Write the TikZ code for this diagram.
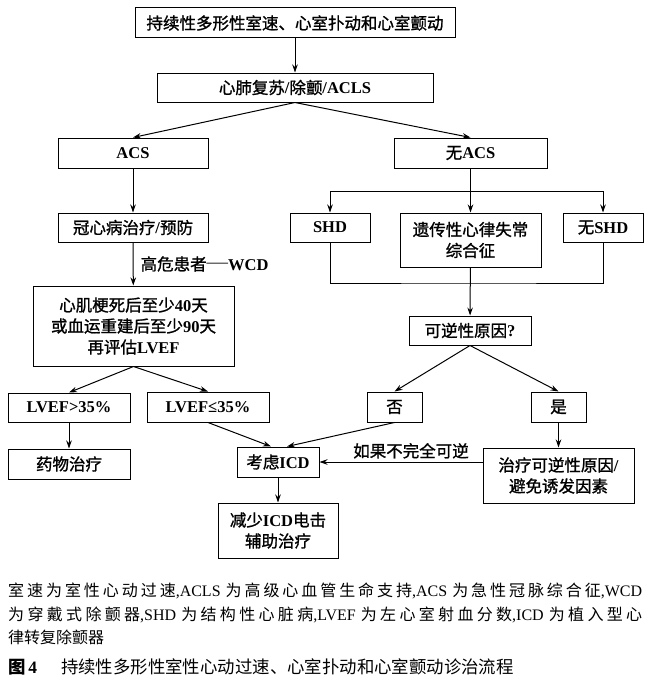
\documentclass[tikz,border=0pt]{standalone}
\usepackage{fontspec}
\setmainfont{Liberation Serif}
\newfontfamily\cjk{Noto Sans CJK SC}
\newfontfamily\cjkbox{Noto Sans CJK SC}[FakeBold=1.2]
\usetikzlibrary{arrows.meta,positioning}

\newcommand\zh[1]{{\cjk\mdseries #1}}
\newcommand\zb[1]{{\cjkbox\mdseries #1}}
\newcommand\boxfont{\fontsize{16.5}{21}\selectfont\bfseries}
\newcommand\capfont{\fontsize{16}{23.5}\selectfont
  \XeTeXlinebreaklocale "zh"\XeTeXlinebreakskip=0pt plus 6pt\relax}

\begin{document}
\begin{tikzpicture}[x=1pt,y=1pt,
  box/.style={draw,line width=1pt,inner sep=0pt,align=center,font=\boxfont},
  sz/.style 2 args={minimum width=#1,minimum height=#2},
  ar/.style={-{Stealth[length=8pt,width=5.5pt]},line width=1pt},
  lab/.style={font=\boxfont,inner sep=2pt},
  capt/.style={font=\capfont,text width=634pt,align=justify,inner sep=0pt}]
 \useasboundingbox (0,0) rectangle (654,-685);

 % ---- top ----
 \node[box,sz={320}{30}] (vt) at (295,-23) {\zb{持续性多形性室速、心室扑动和心室颤动}};
 \node[box,sz={276}{29}] (cpr) at (295,-87.5) {\zb{心肺复苏}/\zb{除颤}/ACLS};
 \node[box,sz={150}{30}] (acs) at (133,-153) {ACS};
 \node[box,sz={153}{30}] (noacs) at (470.5,-153) {\zb{无}ACS};
 \draw[ar] (vt) -- (cpr);
 \draw[ar] (cpr.south) -- (acs.north);
 \draw[ar] (cpr.south) -- (noacs.north);

 % ---- ACS branch ----
 \node[box,sz={150}{29}] (chd) at (133,-227.5) {\zb{冠心病治疗}/\zb{预防}};
 \node[box,sz={201}{80}] (mi) at (133.5,-326) {\zb{心肌梗死后至少}40\zb{天}\\\zb{或血运重建后至少}90\zb{天}\\\zb{再评估}LVEF};
 \node[box,sz={122}{29}] (lvhi) at (69,-407.5) {LVEF>35\%};
 \node[box,sz={122}{30}] (lvlo) at (208,-407) {LVEF≤35\%};
 \node[box,sz={122}{30}] (drug) at (69,-464) {\zb{药物治疗}};
 \draw[ar] (acs) -- (chd);
 \draw[ar] (chd) -- node[lab,right=5pt] {\zb{高危患者}{\mdseries\raisebox{2.5pt}{\scalebox{1.3}[1]{—}}}WCD} (mi);
 \draw[ar] (mi.south) -- (lvhi.north);
 \draw[ar] (mi.south) -- (lvlo.north);
 \draw[ar] (lvhi) -- (drug);

 % ---- no ACS branch ----
 \node[box,sz={80}{29}] (shd) at (330,-227.5) {SHD};
 \node[box,sz={141}{54}] (inh) at (470.5,-240) {\zb{遗传性心律失常}\\\zb{综合征}};
 \node[box,sz={80}{29}] (noshd) at (603,-227.5) {\zb{无}SHD};
 \coordinate (split) at (470.5,-191);
 \coordinate (merge) at (470.5,-283);
 \draw (noacs) -- (split);
 \draw[ar] (split) -| (shd);
 \draw[ar] (split) -| (noshd);
 \draw[ar] (noacs) -- (inh);
 \draw (shd) |- (merge) -| (noshd);
 \node[box,sz={122}{29}] (rev) at (470,-330.5) {\zb{可逆性原因}?};
 \draw[ar] (inh) -- (rev);
 \node[box,sz={55}{30}] (no) at (394.5,-407) {\zb{否}};
 \node[box,sz={55}{30}] (yes) at (558.5,-407) {\zb{是}};
 \draw[ar] (rev.south) -- (no.north);
 \draw[ar] (rev.south) -- (yes.north);
 \node[box,sz={151}{55}] (treat) at (558.5,-475.5) {\zb{治疗可逆性原因}/\\\zb{避免诱发因素}};
 \draw[ar] (yes) -- (treat);

 % ---- ICD ----
 \node[box,sz={82}{30}] (icd) at (278,-462) {\zb{考虑}ICD};
 \node[box,sz={120}{55}] (less) at (278,-530.5) {\zb{减少}ICD\zb{电击}\\\zb{辅助治疗}};
 \draw[ar] (lvlo.south) -- ([xshift=-7pt]icd.north);
 \draw[ar] (no.south) -- ([xshift=9pt]icd.north);
 \draw[ar] (treat.west |- icd) -- node[lab,above=1pt,xshift=10pt] {\zb{如果不完全可逆}} (icd.east);
 \draw[ar] (icd) -- (less);

 % ---- caption ----
 \node[capt,anchor=north west] (note) at (8,-583) {\zh{室速为室性心动过速},ACLS \zh{为高级心血管生命支持},ACS \zh{为急性冠脉综合征},WCD\linebreak
   \zh{为穿戴式除颤器},SHD \zh{为结构性心脏病},LVEF \zh{为左心室射血分数},ICD \zh{为植入型心}\linebreak
   \zh{律转复除颤器}};
 \node[font=\fontsize{17.4}{20}\selectfont,anchor=west,inner sep=0pt] (title) at (8,-667) {{\cjk\bfseries 图}\,\textbf{4}\hspace{24pt}\zh{持续性多形性室性心动过速、心室扑动和心室颤动诊治流程}};
\end{tikzpicture}
\end{document}
